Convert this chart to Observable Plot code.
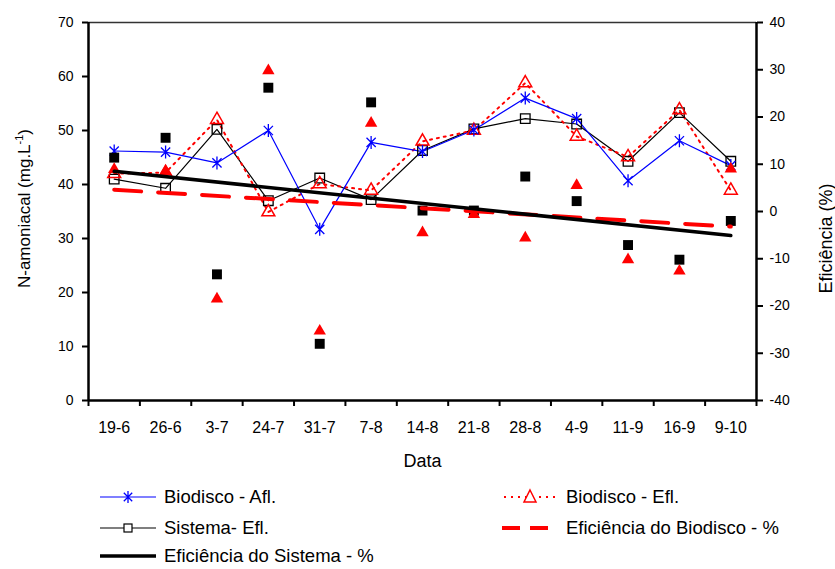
<!DOCTYPE html>
<html>
<head>
<meta charset="utf-8">
<script src="https://cdn.jsdelivr.net/npm/d3@7"></script>
<script src="https://cdn.jsdelivr.net/npm/@observablehq/plot@0.6"></script>
<style>
  html, body { margin: 0; padding: 0; background: #fff; }
  body { width: 835px; height: 569px; overflow: hidden; font-family: "Liberation Sans", Arial, sans-serif; }
  #legend { position: relative; width: 835px; height: 89px; font-size: 18.5px; color: #000; }
  .item { position: absolute; display: flex; align-items: center; height: 24px; white-space: nowrap; }
  .item svg { display: block; margin-right: 8px; }
</style>
</head>
<body>
<div id="chart"></div>
<div id="legend"></div>
<script>
// ---- data ----
const dates = ["19-6","26-6","3-7","24-7","31-7","7-8","14-8","21-8","28-8","4-9","11-9","16-9","9-10"];
// N-amoniacal (mg/L), left axis
const biodiscoAfl = [46.2, 46.0, 44.0, 50.0, 31.7, 47.8, 46.1, 50.1, 56.0, 52.2, 40.7, 48.1, 43.5];
const biodiscoEfl = [42.0, 42.2, 52.0, 34.9, 40.1, 38.9, 48.0, 50.0, 58.8, 48.9, 45.1, 53.8, 38.9];
const sistemaEfl  = [41.0, 39.3, 50.2, 37.0, 41.2, 37.2, 46.3, 50.3, 52.2, 51.2, 44.3, 53.3, 44.3];
// Efficiencies (%), right axis
const efSistema   = [11.4, 15.6, -13.3, 26.2, -28.0, 23.1, 0.2, 0.2, 7.4, 2.2, -7.1, -10.2, -2.0];
const efBiodisco  = [8.9, 8.5, -18.5, 29.8, -25.3, 18.7, -4.5, -0.6, -5.6, 5.5, -10.2, -12.6, 9.0];
// Linear trend lines (values at first and last date)
const trendSistema  = [8.5, -5.1];
const trendBiodisco = [4.6, -3.2];
// Axes ticks
const leftTicks  = [0, 10, 20, 30, 40, 50, 60, 70];
const rightTicks = [-40, -30, -20, -10, 0, 10, 20, 30, 40];

// ---- mapping right axis (-40..40) onto left axis (0..70) ----
const toLeft = v => (v + 40) * 70 / 80;
const fromLeft = v => Math.round(v * 80 / 70 - 40);

const idx = d3.range(dates.length);
const rows = (arr) => arr.map((v, i) => ({i, v}));
const rowsR = (arr) => arr.map((v, i) => ({i, v: toLeft(v)}));
const trendRows = (arr) => [{i: 0, v: toLeft(arr[0])}, {i: dates.length - 1, v: toLeft(arr[1])}];

// Excel-like star: X plus vertical bar
const star = {
  draw(context, size) {
    const r = Math.sqrt(size / Math.PI);
    const d = r * Math.SQRT1_2;
    context.moveTo(0, -r); context.lineTo(0, r);
    context.moveTo(-d, -d); context.lineTo(d, d);
    context.moveTo(-d, d); context.lineTo(d, -d);
  }
};

const chart = Plot.plot({
  width: 835,
  height: 480,
  marginLeft: 88,
  marginRight: 79,
  marginTop: 22,
  marginBottom: 80,
  style: {fontFamily: "'Liberation Sans', Arial, sans-serif", fontSize: "14px", color: "#000", background: "#fff"},
  x: {type: "linear", domain: [-0.5, dates.length - 0.5], axis: null},
  y: {domain: [0, 70], axis: null},
  marks: [
    // axes
    Plot.axisY(leftTicks, {anchor: "left", tickSize: 6, tickPadding: 9, strokeWidth: 2, fontSize: 14, label: null}),
    Plot.axisY(rightTicks.map(toLeft), {anchor: "right", tickSize: 6, tickPadding: 7, strokeWidth: 2, fontSize: 14, tickFormat: fromLeft, label: null}),
    Plot.axisX(idx, {anchor: "bottom", tickSize: 0, tickPadding: 21, fontSize: 16, tickFormat: i => dates[i], label: null}),
    Plot.axisX(d3.range(dates.length + 1).map(i => i - 0.5), {anchor: "bottom", tickSize: 6, strokeWidth: 2, tickFormat: () => "", label: null}),
    Plot.ruleY([70], {stroke: "#333", strokeWidth: 1.5}),
    Plot.ruleY([0], {stroke: "#000", strokeWidth: 2.5}),
    Plot.ruleX([-0.5, dates.length - 0.5], {stroke: "#000", strokeWidth: 2.5}),
    // titles
    Plot.text(["Data"], {frameAnchor: "bottom", dy: 66, fontSize: 18}),
    Plot.text(["N-amoniacal (mg.L-1)"], {frameAnchor: "left", textAnchor: "middle", dx: -64, dy: -3, rotate: -90, fontSize: 17}),
    Plot.text(["Eficiência (%)"], {frameAnchor: "right", textAnchor: "middle", dx: 70, dy: 27, rotate: -90, fontSize: 18}),
    // series lines
    Plot.line(rows(sistemaEfl), {x: "i", y: "v", stroke: "#000", strokeWidth: 1.2}),
    Plot.line(rows(biodiscoEfl), {x: "i", y: "v", stroke: "#ff0000", strokeWidth: 2, strokeDasharray: "2,5"}),
    Plot.line(rows(biodiscoAfl), {x: "i", y: "v", stroke: "#0000ff", strokeWidth: 1.2}),
    // open markers
    Plot.dot(rows(sistemaEfl), {x: "i", y: "v", symbol: "square", r: 5.4, stroke: "#000", strokeWidth: 1.3, fill: "none"}),
    Plot.dot(rows(biodiscoEfl), {x: "i", y: "v", symbol: "triangle", r: 4.8, stroke: "#ff0000", strokeWidth: 1.5, fill: "none"}),
    Plot.dot(rows(biodiscoAfl), {x: "i", y: "v", symbol: star, r: 6.5, stroke: "#0000ff", strokeWidth: 1.3, fill: "none"}),
    // efficiency points
    Plot.dot(rowsR(efSistema), {x: "i", y: "v", symbol: "square", r: 5.6, fill: "#000", stroke: "none"}),
    Plot.dot(rowsR(efBiodisco), {x: "i", y: "v", symbol: "triangle", r: 4.6, fill: "#ff0000", stroke: "none"}),
    // trend lines
    Plot.line(trendRows(trendBiodisco), {x: "i", y: "v", stroke: "#ff0000", strokeWidth: 4, strokeDasharray: "27,17"}),
    Plot.line(trendRows(trendSistema), {x: "i", y: "v", stroke: "#000", strokeWidth: 3.5})
  ]
});

// superscript in the y title
for (const t of chart.querySelectorAll("text")) {
  if (t.textContent === "N-amoniacal (mg.L-1)") {
    t.textContent = "";
    const ns = "http://www.w3.org/2000/svg";
    const a = document.createElementNS(ns, "tspan"); a.textContent = "N-amoniacal (mg.L";
    const b = document.createElementNS(ns, "tspan"); b.textContent = "-1"; b.setAttribute("font-size", "11"); b.setAttribute("dy", "-7");
    const c = document.createElementNS(ns, "tspan"); c.textContent = ")"; c.setAttribute("dy", "7");
    t.append(a, b, c);
  }
}
document.getElementById("chart").append(chart);

// ---- legend ----
const legendItems = [
  {label: "Biodisco - Afl.", x: 100, y: 5, kind: "star"},
  {label: "Biodisco - Efl.", x: 502, y: 5, kind: "tri"},
  {label: "Sistema- Efl.", x: 100, y: 36, kind: "sq"},
  {label: "Eficiência do Biodisco - %", x: 502, y: 36, kind: "dash"},
  {label: "Eficiência do Sistema - %", x: 100, y: 64, kind: "thick"}
];
const legend = d3.select("#legend");
for (const it of legendItems) {
  const div = legend.append("div").attr("class", "item").style("left", it.x + "px").style("top", it.y + "px");
  const s = div.append("svg").attr("width", 56).attr("height", 24);
  if (it.kind === "star") {
    s.append("line").attr("x1", 0).attr("x2", 56).attr("y1", 12).attr("y2", 12).attr("stroke", "#0000ff").attr("stroke-width", 1.2);
    s.append("path").attr("d", "M28,6V18M23.8,7.8L32.2,16.2M23.8,16.2L32.2,7.8").attr("stroke", "#0000ff").attr("stroke-width", 1.3).attr("fill", "none");
  } else if (it.kind === "tri") {
    s.append("line").attr("x1", 2).attr("x2", 56).attr("y1", 12).attr("y2", 12).attr("stroke", "#ff0000").attr("stroke-width", 2).attr("stroke-dasharray", "2,5");
    s.append("path").attr("d", "M28,5L34,17H22Z").attr("stroke", "#ff0000").attr("stroke-width", 1.5).attr("fill", "#fff");
  } else if (it.kind === "sq") {
    s.append("line").attr("x1", 0).attr("x2", 56).attr("y1", 12).attr("y2", 12).attr("stroke", "#000").attr("stroke-width", 1.2);
    s.append("rect").attr("x", 24).attr("y", 8).attr("width", 8).attr("height", 8).attr("stroke", "#000").attr("stroke-width", 1.2).attr("fill", "#fff");
  } else if (it.kind === "dash") {
    s.append("line").attr("x1", 0).attr("x2", 56).attr("y1", 12).attr("y2", 12).attr("stroke", "#ff0000").attr("stroke-width", 4).attr("stroke-dasharray", "18,10");
  } else {
    s.append("line").attr("x1", 0).attr("x2", 56).attr("y1", 12).attr("y2", 12).attr("stroke", "#000").attr("stroke-width", 3.5);
  }
  div.append("span").text(it.label);
}
</script>
</body>
</html>
